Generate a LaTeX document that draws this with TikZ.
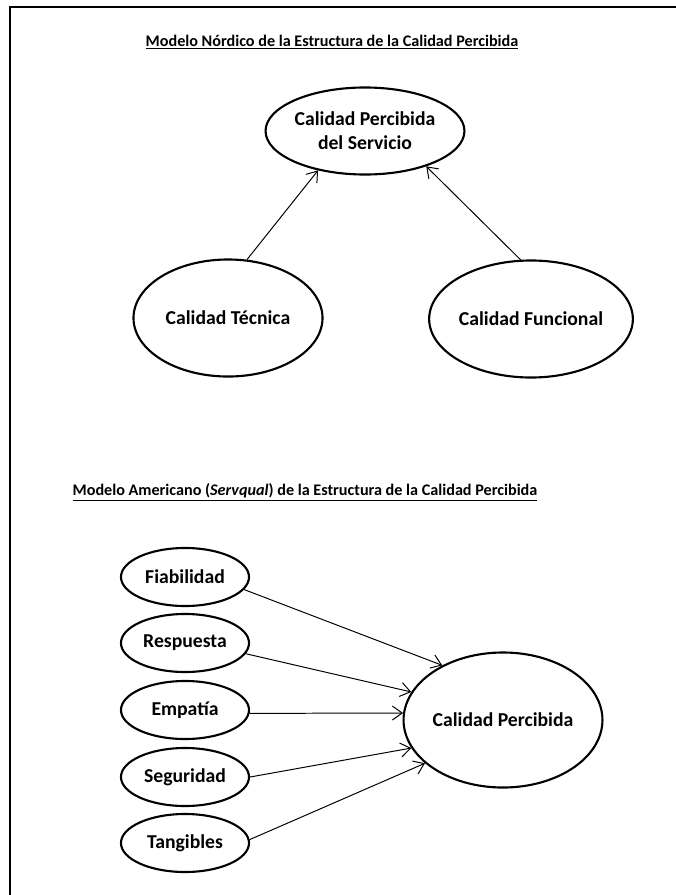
\documentclass[tikz,border=0pt]{standalone}
\usepackage{fontspec}
\setmainfont{Carlito}
\usetikzlibrary{shapes.geometric, arrows.meta}

\begin{document}
\begin{tikzpicture}[x=0.025cm, y=-0.025cm]
        \tikzstyle{oval}=[ellipse, draw, line width=1.5pt, inner sep=0pt, align=center, font=\bfseries\fontsize{14}{17}\selectfont]
        \tikzstyle{chico}=[oval, minimum width=3.2cm, minimum height=1.45cm]
        \tikzstyle{titulo}=[inner sep=0pt, font=\bfseries\fontsize{11.5}{14}\selectfont]
        \tikzstyle{flecha}=[-{Straight Barb[length=7pt, width=10pt]}, line width=0.7pt]
        \useasboundingbox (0,0) rectangle (676,895);
        \draw [line width=2pt] (10,895) -- (10,7) -- (676,7);
        \node [titulo] (t1) at (332,42) {\underline{Modelo Nórdico de la Estructura de la Calidad Percibida}};
        \node [oval, minimum width=4.6cm, minimum height=2.175cm] (psv) at (365,131) {Calidad Percibida\\del Servicio};
        \node [oval, minimum width=4.725cm, minimum height=2.925cm] (tec) at (228,318) {Calidad Técnica};
        \node [oval, minimum width=4.675cm, minimum height=2.925cm] (fun) at (531,319) {Calidad Funcional};
        \draw [flecha] (tec.72) -- (psv.220);
        \draw [flecha] (fun.100) -- (psv.-30);
        \node [titulo] (t2) at (305,492) {\underline{Modelo Americano (\textit{Servqual}) de la Estructura de la Calidad Percibida}};
        \node [oval, minimum width=4.925cm, minimum height=3.375cm] (cp) at (503,720) {Calidad Percibida};
        \node [chico] (fia) at (185,577) {Fiabilidad};
        \node [chico] (res) at (185,643) {Respuesta};
        \node [chico] (emp) at (185,710) {Empatía};
        \node [chico] (seg) at (185,777) {Seguridad};
        \node [chico] (tan) at (185,843) {Tangibles};
        \draw [flecha] (fia.-12) -- (cp.138);
        \draw [flecha] (res.-10) -- (cp.163);
        \draw [flecha] (emp.-3) -- (cp.176);
        \draw [flecha] (seg.0) -- (cp.197);
        \draw [flecha] (tan.3) -- (cp.209);
\end{tikzpicture}
\end{document}
